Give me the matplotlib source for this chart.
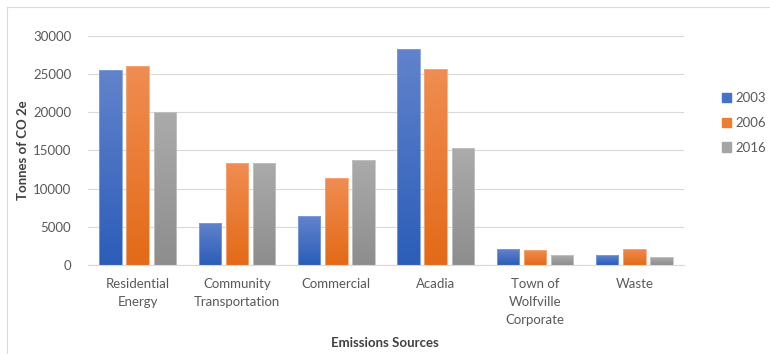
import numpy as np
import matplotlib
matplotlib.use("Agg")
import matplotlib.pyplot as plt
from matplotlib.lines import Line2D
from matplotlib.colors import LinearSegmentedColormap

categories = ["Residential\nEnergy", "Community\nTransportation", "Commercial", "Acadia",
              "Town of\nWolfville\nCorporate", "Waste"]
years = ["2003", "2006", "2016"]
v2003 = [25500, 5500, 6400, 28300, 2050, 1300]
v2006 = [26000, 13300, 11400, 25600, 1950, 2100]
v2016 = [20000, 13400, 13800, 15300, 1300, 1000]
series = [v2003, v2006, v2016]
yticks = [0, 5000, 10000, 15000, 20000, 25000, 30000]

solid = ["#4472c4", "#ed7d31", "#a5a5a5"]
grad = [("#6283cc", "#2b5db8"), ("#f08d52", "#e36a17"), ("#ababab", "#8d8d8d")]
edges = ["#7f9fdc", "#f6a878", "#c4c4c4"]

plt.rcParams['font.family'] = ['Lato', 'DejaVu Sans']
fig = plt.figure(figsize=(7.7, 3.54), dpi=100)
ax = fig.add_axes([88/770, 1-265/354, (684-88)/770, (265-35.7)/354])

x = np.arange(len(categories))
off = 0.275
w = 0.225
for i, vals in enumerate(series):
    bars = ax.bar(x + (i-1)*off, vals, width=w, color="none", edgecolor=edges[i],
                  linewidth=0.6, zorder=3)
    cmap = LinearSegmentedColormap.from_list("g%d" % i, [grad[i][1], grad[i][0]])
    for b in bars:
        bx, by = b.get_x(), b.get_y()
        bw, bh = b.get_width(), b.get_height()
        img = ax.imshow(np.linspace(0, 1, 256).reshape(-1, 1), cmap=cmap, origin="lower",
                        extent=[bx, bx+bw, by, by+bh], aspect="auto", zorder=2,
                        vmin=0, vmax=1)
        img.set_clip_path(b)
ax.set_xlim(-0.5, len(categories)-0.5)
ax.set_ylim(0, 30000)
ax.set_yticks(yticks)
ax.set_yticklabels([str(t) for t in yticks])
ax.set_xticks(x)
ax.set_xticklabels(categories, linespacing=1.65)
ax.tick_params(axis="both", length=0, colors="#595959", labelsize=9.5)
ax.tick_params(axis="y", pad=12)
ax.tick_params(axis="x", pad=9)
ax.grid(axis="y", color="#d9d9d9", linewidth=0.8, zorder=0)
for s in ["top", "right", "left"]:
    ax.spines[s].set_visible(False)
ax.spines["bottom"].set_color("#d9d9d9")
ax.spines["bottom"].set_linewidth(0.8)

fig.text(23/770, 1-150/354, "Tonnes of CO 2e", rotation=90, ha="center", va="center",
         fontweight="bold", color="#404040", fontsize=9.5)
fig.text(385/770, 1-343/354, "Emissions Sources", ha="center", va="center",
         fontweight="bold", color="#404040", fontsize=9.5)

handles = [plt.Rectangle((0, 0), 1, 1, color=c) for c in solid]
leg = fig.legend(handles, years, loc="center left", bbox_to_anchor=(710/770, 1-123/354),
                 frameon=False, fontsize=9.5, handlelength=0.7, handleheight=0.7,
                 handletextpad=0.3, labelspacing=0.95, labelcolor="#595959")

fig.add_artist(Line2D([7/770, 1], [1-7/354, 1-7/354], color="#d9d9d9", lw=0.8, transform=fig.transFigure))
fig.add_artist(Line2D([7/770, 7/770], [0, 1-7/354], color="#d9d9d9", lw=0.8, transform=fig.transFigure))

fig.savefig("out.png", dpi=100)
